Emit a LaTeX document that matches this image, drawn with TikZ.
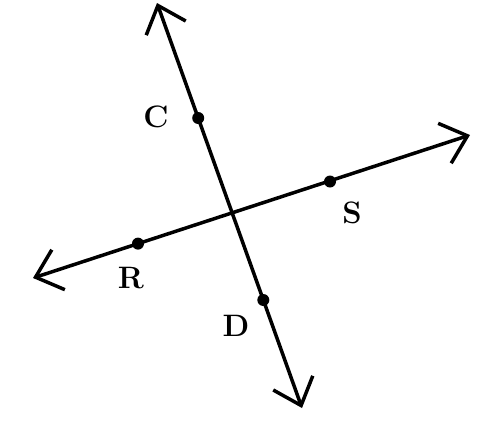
\documentclass[tikz,border=0pt]{standalone}
\usetikzlibrary{arrows.meta}
\begin{document}
\begin{tikzpicture}[x=1pt,y=-1pt,
  lineStyle/.style={line width=3.5pt, {Straight Barb[length=24pt,width=42pt,line width=3.5pt]}-{Straight Barb[length=24pt,width=42pt,line width=3.5pt]}},
  dotStyle/.style={circle, fill=black, inner sep=0pt, minimum size=12pt},
  lbl/.style={font=\bfseries\fontsize{31}{31}\selectfont, inner sep=0pt}]
\useasboundingbox (0,0) rectangle (502,421);
\coordinate (cdTop) at (157,3);
\coordinate (cdBot) at (302,408);
\coordinate (rsLeft) at (33,278);
\coordinate (rsRight) at (470,135);
\draw[lineStyle] (cdTop) -- (cdBot);
\draw[lineStyle] (rsLeft) -- (rsRight);
\node[dotStyle] (C) at (198.2,118) {};
\node[dotStyle] (D) at (263.3,300) {};
\node[dotStyle] (R) at (138,243.6) {};
\node[dotStyle] (S) at (330,181.5) {};
\node[lbl] (Clbl) at (156,117) {C};
\node[lbl] (Dlbl) at (236,326) {D};
\node[lbl] (Rlbl) at (131,278) {R};
\node[lbl] (Slbl) at (352,213) {S};
\end{tikzpicture}
\end{document}
